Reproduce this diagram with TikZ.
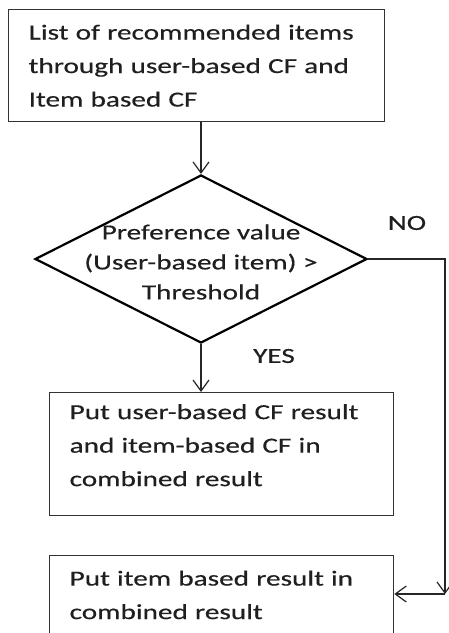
\documentclass[tikz,border=0pt]{standalone}
\usepackage{fontspec}
\setmainfont{Carlito}[FakeStretch=1.36,FakeBold=0.4]
\usepackage{tikz}
\usetikzlibrary{arrows.meta,positioning,shapes.geometric}

\tikzset{
  flowfont/.style={font=\fontsize{21.5}{33.5}\selectfont, text=black!88},
  stepbox/.style={draw=black!80, line width=1.3pt, rectangle, flowfont, align=left,
    anchor=north west, inner xsep=20pt, inner ysep=0pt},
  decision/.style={draw=black, line width=2.2pt, diamond, inner sep=0pt,
    minimum width=332pt, minimum height=168pt},
  flow/.style={draw=black!85, line width=1.3pt,
    -{Straight Barb[length=11pt,width=16pt,line width=1.2pt]}}
}

\begin{document}
\begin{tikzpicture}[x=1pt,y=-1pt]
  \clip (0,0) rectangle (449,633);
  \fill[white] (0,0) rectangle (449,633);

  % boxes
  \node[stepbox, text width=336pt, minimum height=112pt] (list) at (8,9)
    {List of recommended items\\ through user-based CF and\\ Item based CF};
  \node[stepbox, text width=304pt, minimum height=123pt] (both) at (49,392)
    {Put user-based CF result\\ and item-based CF in\\ combined result\rule[-18pt]{0pt}{1pt}};
  \node[stepbox, text width=304pt, inner ysep=15pt] (itemonly) at (49,555)
    {Put item based result in\\ combined result};

  % decision
  \node[decision] (pref) at (201,259) {};
  \node[flowfont, align=center, font=\fontsize{21.5}{30}\selectfont] (preftext) at (201,262)
    {Preference value\\ (User-based item) >\\ Threshold};

  % labels
  \node[flowfont] (no) at (407,223) {NO};
  \node[flowfont] (yes) at (274,356) {YES};

  % connectors
  \coordinate (turn) at (445,594);
  \draw[flow] (list.south -| pref.north) -- (pref.north);
  \draw[flow] (pref.south) -- (pref.south |- both.north);
  \draw[flow] (pref.east) -| (turn);
  \draw[flow] (turn) -- (turn -| itemonly.east);
\end{tikzpicture}
\end{document}
